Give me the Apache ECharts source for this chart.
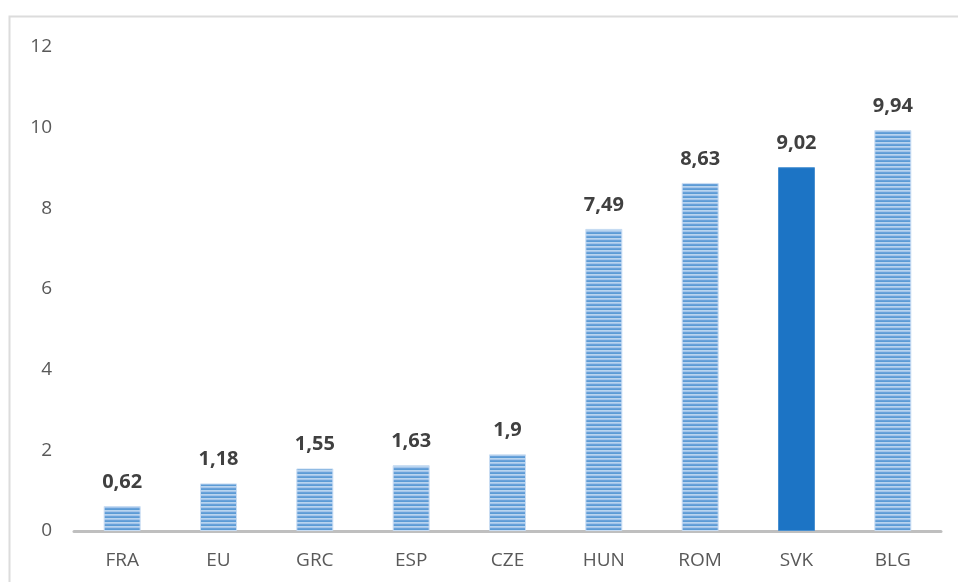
<!DOCTYPE html>
<html>
<head>
<meta charset="utf-8">
<script src="https://cdn.jsdelivr.net/npm/echarts@6/dist/echarts.min.js"></script>
<style>
  html, body { margin: 0; padding: 0; background: #fff; }
  #chart { width: 958px; height: 582px; }
</style>
</head>
<body>
<div id="chart"></div>
<script>
// Country codes along the x axis
const categories = ['FRA', 'EU', 'GRC', 'ESP', 'CZE', 'HUN', 'ROM', 'SVK', 'BLG'];
// Values per country
const values = [0.62, 1.18, 1.55, 1.63, 1.9, 7.49, 8.63, 9.02, 9.94];
// The highlighted country is drawn with a solid fill
const highlighted = 'SVK';
// Y axis ticks
const yTicks = [0, 2, 4, 6, 8, 10, 12];

// Narrow horizontal stripe fill
function makeStripes() {
  const c = document.createElement('canvas');
  c.width = 4; c.height = 4;
  const g = c.getContext('2d');
  const rows = ['#6aa2da', '#5b9bd5', '#b9d4ef', '#a3c5ea'];
  rows.forEach((col, i) => { g.fillStyle = col; g.fillRect(0, i, 4, 1); });
  return c;
}
const stripeFill = { image: makeStripes(), repeat: 'repeat' };

const fmt = v => String(v).replace('.', ',');

const chart = echarts.init(document.getElementById('chart'), null, { renderer: 'canvas' });
chart.setOption({
  animation: false,
  backgroundColor: '#ffffff',
  graphic: [{
    type: 'rect',
    shape: { x: 9.5, y: 16.5, width: 970, height: 600 },
    style: { fill: 'none', stroke: '#dcdcdc', lineWidth: 2 },
    silent: true
  }],
  grid: { left: 74, right: 17, top: 47, bottom: 51 },
  xAxis: {
    type: 'category',
    data: categories,
    axisTick: { show: false },
    axisLine: { lineStyle: { color: '#bfbfbf', width: 3 } },
    axisLabel: { color: '#595959', fontSize: 19, margin: 20, fontFamily: 'Open Sans' }
  },
  yAxis: {
    type: 'value',
    min: yTicks[0],
    max: yTicks[yTicks.length - 1],
    interval: 2,
    splitLine: { show: false },
    axisLine: { show: false },
    axisTick: { show: false },
    axisLabel: { color: '#595959', fontSize: 19, margin: 22, fontFamily: 'Open Sans' }
  },
  series: [{
    type: 'bar',
    barWidth: 37,
    data: values.map((v, i) => ({
      value: v,
      itemStyle: categories[i] === highlighted
        ? { color: '#1c74c5', borderColor: '#4a90d0', borderWidth: 1 }
        : { color: stripeFill, borderColor: '#c9ddf3', borderWidth: 1 }
    })),
    label: {
      show: true,
      position: 'top',
      distance: 14,
      color: '#404040',
      fontSize: 20,
      fontWeight: 'bold',
      fontFamily: 'Open Sans',
      formatter: p => fmt(p.value)
    }
  }]
});
</script>
</body>
</html>
